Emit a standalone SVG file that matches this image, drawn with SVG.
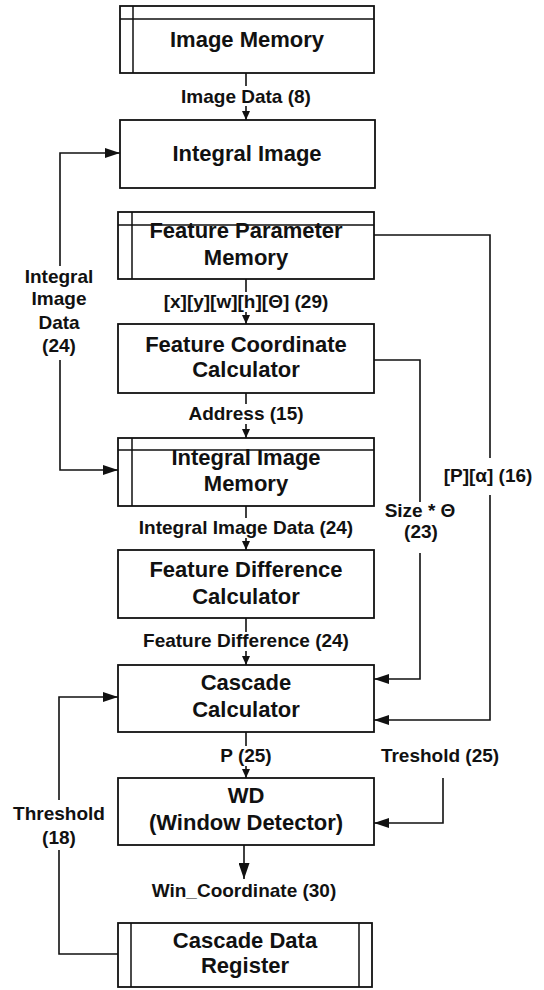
<svg xmlns="http://www.w3.org/2000/svg" width="544" height="990" viewBox="0 0 544 990">
<style>
.box{fill:#fff;stroke:#111;stroke-width:1.8}
.in{stroke:#111;stroke-width:1.5;fill:none}
.n{font-family:"Liberation Sans",Arial,sans-serif;font-weight:bold;font-size:22px;fill:#111;text-anchor:middle}
.l{font-family:"Liberation Sans",Arial,sans-serif;font-weight:bold;font-size:19px;fill:#111;text-anchor:middle}
.c{fill:none;stroke:#111;stroke-width:1.6}
</style>
<defs>
<marker id="ah" markerUnits="userSpaceOnUse" markerWidth="15" markerHeight="10" viewBox="0 0 15 10" refX="15" refY="5" orient="auto"><path d="M0,0L15,5L0,10z" fill="#111"/></marker>
<marker id="as" markerUnits="userSpaceOnUse" markerWidth="9" markerHeight="8" viewBox="0 0 9 8" refX="9" refY="4" orient="auto"><path d="M0,0L9,4L0,8z" fill="#111"/></marker>
<marker id="ab" markerUnits="userSpaceOnUse" markerWidth="16" markerHeight="11" viewBox="0 0 16 11" refX="16" refY="5.5" orient="auto"><path d="M0,0L16,5.5L0,11z" fill="#111"/></marker>
</defs>
<rect width="544" height="990" fill="#fff"/>

<g id="image-memory">
<rect class="box" x="120" y="6" width="254" height="67"/>
<path class="in" d="M133,6V73M120,19H374"/>
<text class="n" x="247" y="47">Image Memory</text>
</g>
<g id="integral-image">
<rect class="box" x="120" y="120" width="255" height="68"/>
<text class="n" x="247" y="161">Integral Image</text>
</g>
<g id="feature-parameter-memory">
<rect class="box" x="118" y="212" width="256" height="67"/>
<path class="in" d="M132,212V279M118,225H374"/>
<text class="n" x="246" y="238">Feature Parameter</text>
<text class="n" x="246" y="265">Memory</text>
</g>
<g id="feature-coordinate-calculator">
<rect class="box" x="118" y="324" width="256" height="69"/>
<text class="n" x="246" y="352">Feature Coordinate</text>
<text class="n" x="246" y="377">Calculator</text>
</g>
<g id="integral-image-memory">
<rect class="box" x="118" y="438" width="256" height="68"/>
<path class="in" d="M132,438V506M118,450H374"/>
<text class="n" x="246" y="465">Integral Image</text>
<text class="n" x="246" y="491">Memory</text>
</g>
<g id="feature-difference-calculator">
<rect class="box" x="118" y="550" width="256" height="68"/>
<text class="n" x="246" y="577">Feature Difference</text>
<text class="n" x="246" y="604">Calculator</text>
</g>
<g id="cascade-calculator">
<rect class="box" x="118" y="665" width="256" height="67"/>
<text class="n" x="246" y="690">Cascade</text>
<text class="n" x="246" y="717">Calculator</text>
</g>
<g id="window-detector">
<rect class="box" x="118" y="778" width="256" height="67"/>
<text class="n" x="246" y="803">WD</text>
<text class="n" x="246" y="830">(Window Detector)</text>
</g>
<g id="cascade-data-register">
<rect class="box" x="118" y="923" width="254" height="64"/>
<path class="in" d="M131,923V987M359,923V987"/>
<text class="n" x="245" y="948">Cascade Data</text>
<text class="n" x="245" y="973">Register</text>
</g>

<g id="connectors">
<path class="c" d="M246,73V86M246,106V120" marker-end="url(#as)"/>
<path class="c" d="M60,266V153H120" marker-end="url(#ah)"/>
<path class="c" d="M60,360V470H118" marker-end="url(#ah)"/>
<path class="c" d="M246,279V292M246,312V324" marker-end="url(#as)"/>
<path class="c" d="M246,393V404M246,424V438" marker-end="url(#as)"/>
<path class="c" d="M246,506V518M246,538V550" marker-end="url(#as)"/>
<path class="c" d="M246,618V632M246,651V665" marker-end="url(#as)"/>
<path class="c" d="M246,732V746M246,766V778" marker-end="url(#as)"/>
<path class="c" d="M244,845V879" stroke-width="2.2" marker-end="url(#ab)"/>
<path class="c" d="M374,360H420V502M420,553V679H374" marker-end="url(#ah)"/>
<path class="c" d="M374,235H490V458M490,495V720H374" marker-end="url(#ah)"/>
<path class="c" d="M443,778V823H374" marker-end="url(#ah)"/>
<path class="c" d="M118,954H59V850M59,800V697H118" marker-end="url(#ah)"/>

<text class="l" x="246" y="103">Image Data (8)</text>
<text class="l" x="246" y="308">[x][y][w][h][Θ] (29)</text>
<text class="l" x="246" y="420">Address (15)</text>
<text class="l" x="246" y="534">Integral Image Data (24)</text>
<text class="l" x="246" y="647">Feature Difference (24)</text>
<text class="l" x="246" y="762">P (25)</text>
<text class="l" x="440" y="762">Treshold (25)</text>
<text class="l" x="244" y="897">Win_Coordinate (30)</text>
<text class="l" x="59" y="283">Integral</text>
<text class="l" x="59" y="305">Image</text>
<text class="l" x="59" y="329">Data</text>
<text class="l" x="59" y="352">(24)</text>
<text class="l" x="420" y="517">Size * Θ</text>
<text class="l" x="421" y="538">(23)</text>
<text class="l" x="488" y="482">[P][α] (16)</text>
<text class="l" x="59" y="820">Threshold</text>
<text class="l" x="59" y="844">(18)</text>
</g>
</svg>
